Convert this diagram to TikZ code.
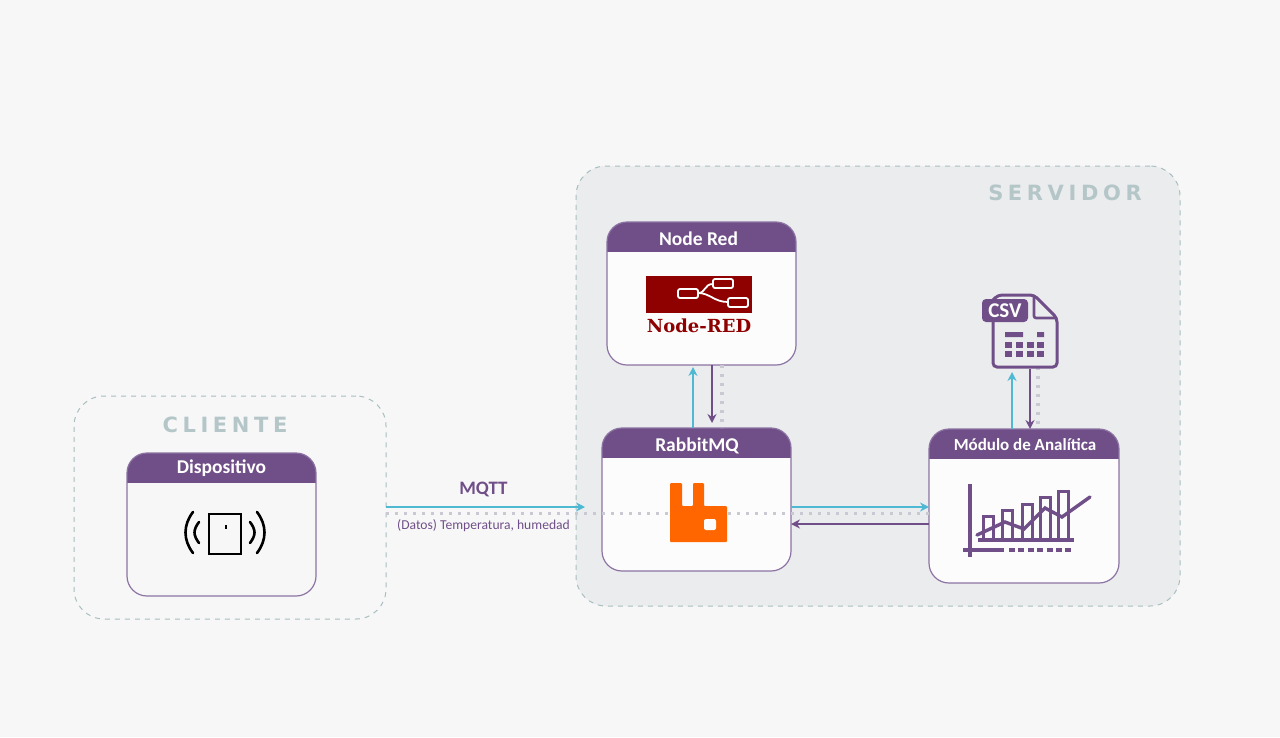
\documentclass[tikz,border=0pt]{standalone}
\usepackage{fontspec}
\usepackage{tikz}
\usetikzlibrary{positioning, arrows.meta, calc}
\setmainfont{Carlito}
\newfontfamily\zonefont[LetterSpace=22]{DejaVu Sans}
\newfontfamily\logofont{DejaVu Serif}
\definecolor{pagebg}{HTML}{F7F7F8}
\definecolor{serverbg}{HTML}{EBECEE}
\definecolor{zonegray}{HTML}{B4C6C8}
\definecolor{zoneline}{HTML}{A8BEBF}
\definecolor{cardpurple}{HTML}{704F88}
\definecolor{cardline}{HTML}{8C73A3}
\definecolor{cardbody}{HTML}{FCFCFD}
\definecolor{arrowcyan}{HTML}{4DB9D3}
\definecolor{dotgray}{HTML}{C9C8D3}
\definecolor{rabbitorange}{HTML}{FF6600}
\definecolor{redbrand}{HTML}{8F0000}

\begin{document}
\begin{tikzpicture}[
    x=1pt, y=-1pt,
    zone/.style={draw=zoneline, line width=1pt, dash pattern=on 5pt off 5pt, rounded corners=30pt, inner sep=0pt, outer sep=0pt},
    zonelabel/.style={text=zonegray, font=\zonefont\bfseries\fontsize{21}{21}\selectfont},
    card/.style={draw=cardline, fill=cardbody, line width=1.2pt, rounded corners=20pt, minimum width=189pt, inner sep=0pt, outer sep=0pt,
        path picture={\fill[cardpurple, sharp corners] (path picture bounding box.north west) rectangle ([yshift=-30pt]path picture bounding box.north east);}},
    cardtitle/.style={text=white, font=\bfseries\fontsize{19.5}{19.5}\selectfont},
    cyanarrow/.style={-{Stealth[length=9pt, width=9pt]}, arrowcyan, line width=1.7pt},
    purplearrow/.style={-{Stealth[length=9pt, width=9pt]}, cardpurple, line width=1.7pt},
    dotline/.style={dotgray, line width=3.4pt, dash pattern=on 3pt off 6pt}
]

    % Page
    \useasboundingbox (0,0) rectangle (1280,737);
    \fill[pagebg] (0,0) rectangle (1280,737);

    % Zones
    \node[zone, fill=serverbg, minimum width=604pt, minimum height=440pt] (servidor) at (878,386) {};
    \node[zone, minimum width=312pt, minimum height=223pt] (cliente) at (230,507.5) {};
    \node[zonelabel] (clientelabel) at (225,425) {CLIENTE};
    \node[zonelabel] (servidorlabel) at (1065,193) {SERVIDOR};

    % Cards
    \node[card, fill=pagebg, minimum height=143pt] (dispositivo) at (221.5,524.5) {};
    \node[card, minimum height=143pt] (nodered) at (701.5,293.5) {};
    \node[card, minimum height=143pt] (rabbit) at (696.5,499.5) {};
    \node[card, minimum width=190pt, minimum height=154pt] (analitica) at (1024,506) {};
    \node[cardtitle] (dispositivotitle) at (221.5,468.5) {Dispositivo};
    \node[cardtitle] (noderedtitle) at (698.5,238.5) {Node Red};
    \node[cardtitle] (rabbittitle) at (697,445.5) {RabbitMQ};
    \node[cardtitle, font=\bfseries\fontsize{17}{17}\selectfont] (analiticatitle) at (1025,444.5) {Módulo de Analítica};

    % CSV icon box, only for its anchors
    \node[minimum width=64pt, minimum height=72pt, inner sep=0pt, outer sep=0pt] (csv) at (1025,331) {};

    % Dotted links
    \draw[dotline] ([yshift=-6pt]cliente.east) -- ([yshift=-6pt]cliente.east -| analitica.west);
    \draw[dotline] ([xshift=20.5pt]nodered.south) -- ([xshift=20.5pt]nodered.south |- rabbit.north);
    \draw[dotline] ([xshift=13pt]csv.south) -- ([xshift=13pt]csv.south |- analitica.north);

    % Arrows
    \draw[cyanarrow, shorten >=17pt] ([yshift=0.5pt]cliente.east) -- ([yshift=0.5pt]cliente.east -| rabbit.west);
    \draw[cyanarrow] ([yshift=-7.5pt]rabbit.east) -- ([yshift=-7.5pt]rabbit.east -| analitica.west);
    \draw[purplearrow] ([yshift=-24.5pt]rabbit.east -| analitica.west) -- ([yshift=-24.5pt]rabbit.east);
    \draw[cyanarrow, shorten >=2pt] ([xshift=-3.5pt]rabbit.north) -- ([xshift=-3.5pt]rabbit.north |- nodered.south);
    \draw[purplearrow, shorten >=5pt] ([xshift=10.5pt]nodered.south) -- ([xshift=10.5pt]nodered.south |- rabbit.north);
    \draw[cyanarrow, shorten >=5pt] ([xshift=-13pt]csv.south |- analitica.north) -- ([xshift=-13pt]csv.south);
    \draw[purplearrow, shorten <=2pt] ([xshift=5pt]csv.south) -- ([xshift=5pt]csv.south |- analitica.north);

    % Link labels
    \node[text=cardpurple, font=\bfseries\fontsize{19}{19}\selectfont] (mqtt) at (483.5,489) {MQTT};
    \node[text=cardpurple, font=\fontsize{13.6}{13.6}\selectfont] (datos) at (483.5,525.5) {(Datos) Temperatura, humedad};

    % Device icon
    \draw[black, line width=2.4pt] (209,514) rectangle (241,554);
    \fill[black] (225.2,525) rectangle (226.8,529);
    \draw[black, line width=2.6pt, line cap=round] (193,512) .. controls (183,525) and (183,540) .. (193,553);
    \draw[black, line width=2.6pt, line cap=round] (199,522) .. controls (193,530) and (193,535) .. (199,543);
    \draw[black, line width=2.6pt, line cap=round] (257,512) .. controls (267,525) and (267,540) .. (257,553);
    \draw[black, line width=2.6pt, line cap=round] (250,522) .. controls (256,530) and (256,535) .. (250,543);

    % Node-RED logo
    \fill[redbrand] (646,276) rectangle (752,313);
    \draw[white, line width=1.8pt, rounded corners=2pt] (678,289) rectangle (698,298);
    \draw[white, line width=1.8pt, rounded corners=2pt] (713,279) rectangle (733,288);
    \draw[white, line width=1.8pt, rounded corners=2pt] (728,298) rectangle (748,307);
    \draw[white, line width=1.8pt] (698,293) .. controls (706,293) and (704,284) .. (713,284);
    \draw[white, line width=1.8pt] (698,293) .. controls (710,293) and (714,302) .. (728,302);
    \node[text=redbrand, font=\logofont\bfseries\fontsize{18}{18}\selectfont] (redlabel) at (699,326) {Node-RED};

    % RabbitMQ logo
    \fill[rabbitorange, rounded corners=1pt] (670,483) -- (682,483) -- (682,506) -- (693,506) -- (693,483) -- (704,483)
        -- (704,506) -- (727,506) -- (727,542) -- (670,542) -- cycle;
    \fill[cardbody, rounded corners=2pt] (704,519) rectangle (716,530);

    % CSV icon
    \draw[cardpurple, line width=3pt, rounded corners=4pt] (993,318) -- (993,367) -- (1057,367) -- (1057,318) -- (1034,295) -- (998,295) -- (993,300);
    \draw[cardpurple, line width=2.6pt, rounded corners=2pt] (1034,296) -- (1034,318) -- (1056,318);
    \fill[cardpurple, rounded corners=4pt] (982,299) rectangle (1028,322);
    \node[text=white, font=\bfseries\fontsize{21}{21}\selectfont] (csvlabel) at (1005,311) {CSV};
    \fill[cardpurple] (1005,332) rectangle (1023,337) (1037,332) rectangle (1044,337);
    \foreach \rowy in {342,351}
        \foreach \colx in {1005,1016,1027,1037}
            \fill[cardpurple] (\colx,\rowy) rectangle (\colx+7,\rowy+6);

    % Chart icon
    \draw[cardpurple, line width=3.4pt] (970,484) -- (970,557);
    \draw[cardpurple, line width=3.6pt] (963,550) -- (1004,550);
    \draw[cardpurple, line width=3.6pt, dash pattern=on 6pt off 3.4pt] (1009,550) -- (1074,550);
    \draw[cardpurple, line width=4pt] (978,540) -- (1074,540);
    \foreach \barx/\bartop in {983/516, 1002/510, 1022/504, 1040/497, 1058/491}
        \draw[cardpurple, line width=3pt] (\barx,540) -- (\barx,\bartop) -- (\barx+10,\bartop) -- (\barx+10,540);
    \draw[cardpurple, line width=3.4pt, line cap=round] (977,535) -- (1005,522) -- (1024,529) -- (1045,508) -- (1062,517) -- (1090,497);

\end{tikzpicture}
\end{document}
